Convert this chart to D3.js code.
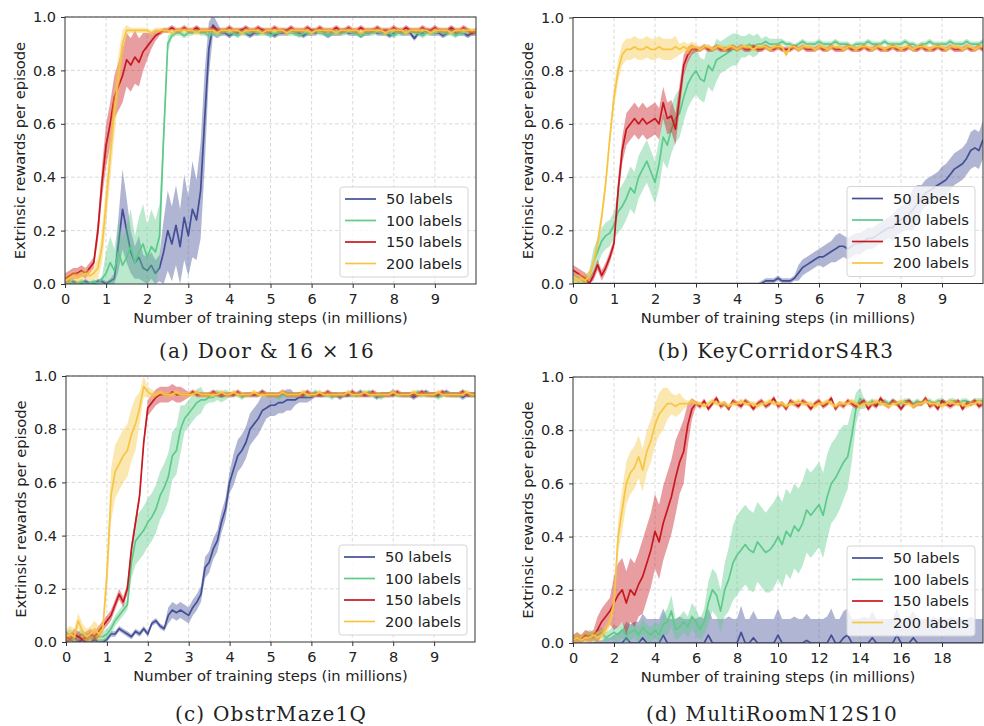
<!DOCTYPE html>
<html>
<head>
<meta charset="utf-8">
<script src="https://cdn.jsdelivr.net/npm/d3@7"></script>
<style>
  body { margin: 0; background: #fff; }
  svg text { font-family: "DejaVu Sans", sans-serif; fill: #222; }
  .caption { font-family: "DejaVu Serif", serif; }
</style>
</head>
<body>
<svg id="chart" width="984" height="726"></svg>
<script>
// values are rewards in hundredths, one per step (0.1M steps for a-c, 0.2M for d)
const seriesLabels = ['50 labels', '100 labels', '150 labels', '200 labels'];
const captions = ['(a) Door & 16 \u00d7 16', '(b) KeyCorridorS4R3', '(c) ObstrMaze1Q', '(d) MultiRoomN12S10'];
const yTicks = [0, 0.2, 0.4, 0.6, 0.8, 1.0];
const xTicksShort = [0, 1, 2, 3, 4, 5, 6, 7, 8, 9];
const xTicksLong = [0, 2, 4, 6, 8, 10, 12, 14, 16, 18];
const stepShort = 0.1, stepLong = 0.2;

// (a) Door 16x16
const doorBlueMean = [
  0,0,1,0,0,1,0,0,1,1, 0,1,2,15,28,20,12,8,10,6, 5,7,4,6,12,20,15,22,14,25,
  18,28,24,35,62,88,97,95,94,94, 93,94,94,95,94,93,94,94,95,94, 94,93,94,94,94,95,94,94,93,94,
  94,94,95,94,93,94,94,94,95,94, 94,94,93,94,94,95,94,94,94,93, 94,95,94,94,94,92,94,94,95,94,
  94,94,93,94,95,94,94,94,93,94,94];
const doorBlueSpread = [
  1,1,1,1,1,1,1,1,1,1, 1,1,2,10,15,12,8,6,8,5, 5,5,5,5,12,15,14,15,14,16,
  15,18,15,18,18,10,4,3,1,1, 1,1,1,1,1,1,1,1,1,1, 1,1,1,1,1,1,1,1,1,1,
  1,1,1,1,1,1,1,1,1,1, 1,1,1,1,1,1,1,1,1,1, 1,1,1,1,1,1,1,1,1,1,
  1,1,1,1,1,1,1,1,1,1,1];
const doorGreenMean = [
  0,1,0,0,1,0,0,1,0,2, 4,8,5,12,7,10,14,8,12,15, 10,14,12,18,55,90,93,94,94,93,
  94,94,95,94,94,93,94,94,94,95, 94,94,93,94,94,94,95,94,94,94, 93,94,94,95,94,94,94,93,94,94,
  94,95,94,94,93,94,94,94,94,95, 94,94,93,94,94,94,95,94,94,94, 93,94,94,94,95,94,94,93,94,94,
  94,95,94,94,94,93,94,94,95,94,94];
const doorGreenSpread = [
  1,1,1,1,1,1,1,1,1,1, 8,10,8,12,10,12,14,10,13,15, 12,14,12,12,6,3,1,1,1,1,
  1,1,1,1,1,1,1,1,1,1, 1,1,1,1,1,1,1,1,1,1, 1,1,1,1,1,1,1,1,1,1,
  1,1,1,1,1,1,1,1,1,1, 1,1,1,1,1,1,1,1,1,1, 1,1,1,1,1,1,1,1,1,1,
  1,1,1,1,1,1,1,1,1,1,1];
const doorRedMean = [
  2,3,4,4,5,4,6,8,20,38, 52,60,70,74,78,84,82,85,83,87, 89,91,93,94,95,95,96,95,95,96,
  95,95,96,95,95,95,96,95,95,95, 96,95,95,95,96,95,95,96,95,95, 95,96,95,95,95,96,95,95,95,96,
  95,95,96,95,95,95,96,95,95,96, 95,95,96,95,95,95,96,95,95,95, 96,95,95,96,95,95,95,96,95,95,
  96,95,95,95,96,95,95,96,95,94,95];
const doorRedSpread = [
  2,2,2,2,2,2,2,2,4,6, 8,8,8,9,10,10,10,10,9,7, 5,3,2,1,1,1,1,1,1,1,
  1,1,1,1,1,1,1,1,1,1, 1,1,1,1,1,1,1,1,1,1, 1,1,1,1,1,1,1,1,1,1,
  1,1,1,1,1,1,1,1,1,1, 1,1,1,1,1,1,1,1,1,1, 1,1,1,1,1,1,1,1,1,1,
  1,1,1,1,1,1,1,1,1,1,1];
const doorYellowMean = [
  1,2,3,2,3,4,3,4,6,14, 30,48,64,78,90,95,95,95,95,95, 95,94,95,95,95,95,94,95,95,95,
  95,95,94,95,95,95,95,94,95,95, 95,95,95,94,95,95,95,95,94,95, 95,95,95,95,94,95,95,95,95,95,
  94,95,95,95,95,95,94,95,95,95, 95,95,94,95,95,95,95,95,94,95, 95,95,95,94,95,95,95,95,95,94,
  95,95,95,95,94,95,95,95,95,95,95];
const doorYellowSpread = [
  2,2,2,2,2,2,2,2,4,6, 8,9,9,8,5,2,1,1,1,1, 1,1,1,1,1,1,1,1,1,1,
  1,1,1,1,1,1,1,1,1,1, 1,1,1,1,1,1,1,1,1,1, 1,1,1,1,1,1,1,1,1,1,
  1,1,1,1,1,1,1,1,1,1, 1,1,1,1,1,1,1,1,1,1, 1,1,1,1,1,1,1,1,1,1,
  1,1,1,1,1,1,1,1,1,1,1];

// (b) KeyCorridorS4R3
const kcBlueMean = [
  0,0,0,0,0,0,0,0,0,0, 0,0,0,0,0,0,0,0,0,0, 0,0,0,0,0,0,0,0,0,0,
  0,0,0,0,0,0,0,0,0,0, 0,0,0,0,0,0,0,1,1,1, 2,1,1,1,2,4,6,7,8,9,
  10,10,11,12,13,14,14,13,14,15, 15,16,17,17,18,19,20,21,21,23, 24,25,26,28,30,32,34,35,36,37,
  38,39,41,43,44,45,47,50,51,50,54];
const kcBlueSpread = [
  0,0,0,0,0,0,0,0,0,0, 0,0,0,0,0,0,0,0,0,0, 0,0,0,0,0,0,0,0,0,0,
  0,0,0,0,0,0,0,0,0,0, 0,0,0,0,0,0,1,1,1,1, 1,1,1,1,1,3,3,3,3,3,
  3,4,4,4,5,5,4,4,4,4, 4,4,4,4,4,4,4,4,5,5, 5,5,6,8,7,5,5,5,5,5,
  6,6,6,6,6,6,6,7,7,7,7];
const kcGreenMean = [
  2,1,0,1,3,8,12,16,18,19, 22,27,29,32,36,34,40,43,46,42, 38,45,55,52,58,62,64,70,75,78,
  80,77,76,82,80,84,85,86,87,88, 88,89,89,90,89,90,90,91,90,90, 90,91,90,90,89,90,91,90,90,90,
  91,90,90,90,91,90,90,90,89,90, 90,90,91,90,90,90,91,90,90,90, 90,91,90,90,89,90,90,91,90,90,
  90,90,91,90,90,90,91,90,90,90,91];
const kcGreenSpread = [
  2,2,2,2,2,5,5,5,5,5, 5,8,8,8,8,8,8,8,8,8, 8,9,9,9,9,9,9,9,9,9,
  9,8,8,8,8,8,6,6,6,6, 6,4,4,4,4,4,2,2,2,2, 2,1,1,1,1,1,1,1,1,1,
  1,1,1,1,1,1,1,1,1,1, 1,1,1,1,1,1,1,1,1,1, 1,1,1,1,1,1,1,1,1,1,
  1,1,1,1,1,1,1,1,1,1,1];
const kcRedMean = [
  5,4,3,2,0,3,7,3,6,10, 15,35,50,58,60,62,60,62,60,61, 62,60,68,62,63,58,70,82,86,88,
  88,88,89,88,88,89,88,88,88,89, 88,89,88,88,89,88,88,89,88,88, 89,88,88,88,89,88,89,88,88,88,
  89,88,88,89,88,88,88,89,88,88, 88,89,88,88,89,88,88,88,89,88, 88,88,89,88,88,89,88,88,88,89,
  88,88,89,88,88,88,89,88,88,89,88];
const kcRedSpread = [
  2,2,2,2,2,2,2,2,2,2, 2,4,5,6,6,6,6,6,6,6, 6,6,6,6,6,6,5,4,3,2,
  1,1,1,1,1,1,1,1,1,1, 1,1,1,1,1,1,1,1,1,1, 1,1,1,1,1,1,1,1,1,1,
  1,1,1,1,1,1,1,1,1,1, 1,1,1,1,1,1,1,1,1,1, 1,1,1,1,1,1,1,1,1,1,
  1,1,1,1,1,1,1,1,1,1,1];
const kcYellowMean = [
  2,1,2,1,3,8,15,25,38,55, 70,80,86,88,88,89,88,88,89,88, 88,89,88,88,88,89,88,89,88,89,
  89,88,89,89,88,89,89,88,89,89, 88,89,89,89,88,89,89,89,88,89, 89,89,86,89,89,88,89,89,89,88,
  89,89,88,89,89,89,88,89,89,88, 89,89,89,88,89,89,88,89,89,89, 88,89,89,88,89,89,89,88,89,89,
  89,88,89,89,89,88,89,89,88,89,89];
const kcYellowSpread = [
  2,2,2,2,2,2,3,3,3,3, 4,4,4,4,4,4,4,4,4,4, 4,4,4,4,4,4,2,2,2,2,
  1,1,1,1,1,1,1,1,1,1, 1,1,1,1,1,1,1,1,1,1, 1,1,1,1,1,1,1,1,1,1,
  1,1,1,1,1,1,1,1,1,1, 1,1,1,1,1,1,1,1,1,1, 1,1,1,1,1,1,1,1,1,1,
  1,1,1,1,1,1,1,1,1,1,1];

// (c) ObstrMaze1Q
const omBlueMean = [
  0,1,0,0,1,0,0,1,0,0, 1,3,3,5,4,3,2,4,3,5, 3,7,8,6,5,10,12,11,12,11,
  10,13,15,18,28,30,35,38,45,50, 60,65,70,72,75,80,82,84,87,88, 89,89,90,90,91,91,91,92,92,92,
  92,93,93,93,93,93,93,92,93,93, 93,93,94,93,93,93,92,93,93,93, 94,93,93,93,93,92,93,93,94,93,
  93,93,93,94,93,93,93,92,93,93,93];
const omBlueSpread = [
  1,1,1,1,1,1,1,1,1,1, 1,1,1,1,1,1,1,1,1,1, 1,1,1,1,1,3,3,3,3,3,
  3,3,3,3,4,4,4,4,4,4, 4,6,6,6,6,6,6,6,6,4, 4,4,4,4,4,4,2,2,2,2,
  1,1,1,1,1,1,1,1,1,1, 1,1,1,1,1,1,1,1,1,1, 1,1,1,1,1,1,1,1,1,1,
  1,1,1,1,1,1,1,1,1,1,1];
const omGreenMean = [
  2,3,1,2,3,1,2,1,2,2, 3,5,8,10,12,14,30,38,40,42, 45,47,50,55,58,62,70,72,80,84,
  86,88,90,91,91,92,92,93,92,93, 93,93,93,92,93,93,93,93,94,93, 93,93,92,93,93,93,93,93,93,93,
  93,94,93,93,93,92,93,93,93,93, 93,93,93,93,94,93,93,92,93,93, 93,93,93,93,93,93,94,93,93,93,
  93,92,93,93,93,93,93,94,93,93,93];
const omGreenSpread = [
  2,2,2,2,2,2,2,2,2,2, 2,2,2,2,2,2,6,9,9,9, 9,9,9,9,9,9,9,9,9,5,
  5,5,5,5,2,2,2,2,2,2, 1,1,1,1,1,1,1,1,1,1, 1,1,1,1,1,1,1,1,1,1,
  1,1,1,1,1,1,1,1,1,1, 1,1,1,1,1,1,1,1,1,1, 1,1,1,1,1,1,1,1,1,1,
  1,1,1,1,1,1,1,1,1,1,1];
const omRedMean = [
  2,1,3,2,1,2,3,2,4,6, 8,10,14,18,15,20,35,45,55,75, 88,90,92,93,93,93,94,93,93,93,
  93,94,93,93,93,93,94,93,93,93, 93,93,94,93,93,93,93,93,94,93, 93,93,93,94,93,93,93,93,93,94,
  93,93,93,93,94,93,93,93,93,93, 94,93,93,93,93,94,93,93,93,93, 93,94,93,93,93,93,93,94,93,93,
  93,93,94,93,93,93,93,94,93,93,93];
const omRedSpread = [
  2,2,2,2,2,2,2,2,2,2, 2,2,2,2,2,2,2,2,2,2, 3,3,3,3,3,3,3,3,3,2,
  1,1,1,1,1,1,1,1,1,1, 1,1,1,1,1,1,1,1,1,1, 1,1,1,1,1,1,1,1,1,1,
  1,1,1,1,1,1,1,1,1,1, 1,1,1,1,1,1,1,1,1,1, 1,1,1,1,1,1,1,1,1,1,
  1,1,1,1,1,1,1,1,1,1,1];
const omYellowMean = [
  2,3,2,8,4,2,3,5,3,5, 25,55,64,67,70,72,78,82,88,96, 94,93,93,94,93,93,93,94,93,93,
  93,93,94,93,93,93,93,93,94,93, 93,94,93,93,93,93,94,93,93,93, 93,93,93,94,93,93,93,93,94,93,
  93,93,94,93,93,93,93,93,93,94, 93,93,93,94,93,93,93,93,93,93, 94,93,93,93,93,94,93,93,93,93,
  93,94,93,93,93,93,93,93,94,93,93];
const omYellowSpread = [
  3,3,3,3,3,3,3,3,3,3, 6,10,10,10,10,10,10,10,6,4, 2,2,1,1,1,1,1,1,1,1,
  1,1,1,1,1,1,1,1,1,1, 1,1,1,1,1,1,1,1,1,1, 1,1,1,1,1,1,1,1,1,1,
  1,1,1,1,1,1,1,1,1,1, 1,1,1,1,1,1,1,1,1,1, 1,1,1,1,1,1,1,1,1,1,
  1,1,1,1,1,1,1,1,1,1,1];

// (d) MultiRoomN12S10
const mrBlueMean = [
  0,0,0,0,0,0,0,0,0,0, 0,0,0,2,0,0,0,2,0,0, 0,0,3,0,0,0,0,0,0,0,
  0,0,0,3,0,0,0,0,0,0, 0,4,0,0,2,0,0,0,0,0, 3,0,0,0,0,0,0,1,0,0,
  0,0,0,3,0,0,2,3,0,0, 0,0,0,2,0,0,0,0,0,3, 0,0,0,2,0,0,0,0,0,0,
  0,0,0,0,0,0,0,0,0,0,0];
const mrBlueSpread = [
  0,0,0,0,0,0,1,1,2,2, 3,4,5,6,7,8,8,9,9,9, 9,9,10,9,9,9,10,9,9,9,
  9,10,9,10,9,9,9,9,10,9, 9,10,9,9,10,9,9,9,9,9, 10,9,9,9,10,9,9,10,9,9,
  9,9,10,10,9,9,10,10,9,9, 9,10,9,10,9,9,9,9,9,10, 9,9,10,10,9,9,9,9,10,9,
  9,9,10,9,9,9,9,10,9,9,9];
const mrGreenMean = [
  1,2,1,2,3,2,3,4,2,3, 4,3,5,3,4,5,3,6,4,3, 5,3,7,8,12,5,6,8,6,10,
  8,5,8,15,20,18,12,20,24,30, 33,35,37,35,34,38,36,34,35,37, 40,37,42,40,44,42,45,50,48,50,
  52,48,55,60,62,65,68,70,78,88, 92,90,90,91,90,90,91,90,91,90, 90,91,91,90,91,90,91,91,90,91,
  91,90,91,91,90,91,91,90,91,91,91];
const mrGreenSpread = [
  2,2,2,2,2,2,2,2,2,2, 3,3,3,3,3,3,3,3,3,3, 3,4,4,5,6,4,4,4,4,5,
  5,4,5,8,8,8,8,10,12,14, 15,15,15,15,15,15,15,15,16,16, 16,16,16,16,16,16,16,16,16,16,
  16,16,16,15,15,15,14,12,10,6, 4,2,1,1,1,1,1,1,1,1, 1,1,1,1,1,1,1,1,1,1,
  1,1,1,1,1,1,1,1,1,1,1];
const mrRedMean = [
  1,2,1,3,2,3,5,8,10,12, 15,18,20,15,20,18,22,25,30,35, 42,38,45,50,55,62,68,72,82,88,
  90,89,91,88,90,92,89,90,88,91, 90,89,91,90,88,90,91,89,90,92, 89,90,88,91,90,89,91,90,88,90,
  91,89,90,92,88,90,89,91,90,89, 90,91,88,90,89,92,90,89,91,90, 88,90,91,89,90,90,92,89,90,88,
  91,90,89,90,91,88,90,90,91,89,90];
const mrRedSpread = [
  2,2,2,2,2,2,5,5,5,5, 10,12,12,12,12,12,12,14,14,14, 14,14,14,14,14,14,12,12,8,4,
  1,1,1,1,1,1,1,1,1,1, 1,1,1,1,1,1,1,1,1,1, 1,1,1,1,1,1,1,1,1,1,
  1,1,1,1,1,1,1,1,1,1, 1,1,1,1,1,1,1,1,1,1, 1,1,1,1,1,1,1,1,1,1,
  1,1,1,1,1,1,1,1,1,1,1];
const mrYellowMean = [
  1,2,1,2,2,3,2,3,5,8, 15,40,50,60,64,66,70,65,72,76, 82,86,88,90,90,89,90,90,90,91,
  90,90,89,90,91,90,90,90,89,90, 90,91,90,90,90,89,90,90,91,90, 90,90,89,90,90,91,90,90,90,89,
  90,90,91,90,89,90,90,90,91,90, 89,90,90,90,91,90,90,89,90,90, 91,90,90,89,90,90,91,90,90,90,
  89,90,91,90,90,90,89,90,90,91,90];
const mrYellowSpread = [
  2,2,2,2,2,2,2,2,2,2, 4,6,8,8,8,8,8,8,8,8, 8,8,8,6,4,4,4,2,1,1,
  1,1,1,1,1,1,1,1,1,1, 1,1,1,1,1,1,1,1,1,1, 1,1,1,1,1,1,1,1,1,1,
  1,1,1,1,1,1,1,1,1,1, 1,1,1,1,1,1,1,1,1,1, 1,1,1,1,1,1,1,1,1,1,
  1,1,1,1,1,1,1,1,1,1,1];

const seriesColors = ['#434f96', '#5cca8b', '#c8181f', '#f6c543'];

const panels = [
  {caption: captions[0], step: stepShort, xMax: 10, xTicks: xTicksShort,
   series: [[doorBlueMean, doorBlueSpread], [doorGreenMean, doorGreenSpread], [doorRedMean, doorRedSpread], [doorYellowMean, doorYellowSpread]],
   left: 65, top: 17, width: 411, height: 267, capX: 267, capY: 358},
  {caption: captions[1], step: stepShort, xMax: 10, xTicks: xTicksShort,
   series: [[kcBlueMean, kcBlueSpread], [kcGreenMean, kcGreenSpread], [kcRedMean, kcRedSpread], [kcYellowMean, kcYellowSpread]],
   left: 573, top: 17.5, width: 410, height: 266, capX: 776, capY: 358},
  {caption: captions[2], step: stepShort, xMax: 10, xTicks: xTicksShort,
   series: [[omBlueMean, omBlueSpread], [omGreenMean, omGreenSpread], [omRedMean, omRedSpread], [omYellowMean, omYellowSpread]],
   left: 66, top: 376, width: 409, height: 266, capX: 271, capY: 721},
  {caption: captions[3], step: stepLong, xMax: 20, xTicks: xTicksLong,
   series: [[mrBlueMean, mrBlueSpread], [mrGreenMean, mrGreenSpread], [mrRedMean, mrRedSpread], [mrYellowMean, mrYellowSpread]],
   left: 573, top: 377, width: 410, height: 266, capX: 772, capY: 721}
];

const svg = d3.select('#chart');

panels.forEach((p, pi) => {
  let x = d3.scaleLinear().domain([0, p.xMax]).range([0, p.width]);
  let y = d3.scaleLinear().domain([0, 1]).range([p.height, 0]);

  let g = svg.append('g')
    .attr('transform', `translate(${p.left}, ${p.top})`);

  g.append('clipPath')
    .attr('id', 'clip' + pi)
    .append('rect')
    .attr('width', p.width)
    .attr('height', p.height);

  // grid
  g.append('g')
    .selectAll('line')
    .data(yTicks.slice(1))
    .enter()
    .append('line')
    .attr('x1', 0).attr('x2', p.width)
    .attr('y1', d => y(d)).attr('y2', d => y(d))
    .attr('stroke', '#cfcfcf').attr('stroke-width', 0.8)
    .attr('stroke-dasharray', '3.5,2.5');

  g.append('g')
    .selectAll('line')
    .data(p.xTicks.slice(1))
    .enter()
    .append('line')
    .attr('x1', d => x(d)).attr('x2', d => x(d))
    .attr('y1', 0).attr('y2', p.height)
    .attr('stroke', '#cfcfcf').attr('stroke-width', 0.8)
    .attr('stroke-dasharray', '3.5,2.5');

  let plot = g.append('g').attr('clip-path', `url(#clip${pi})`);

  p.series.forEach(([mean, spread], si) => {
    let pts = mean.map((m, i) => ({
      t: i * p.step,
      v: m / 100,
      lo: Math.max(0, (m - spread[i]) / 100),
      hi: (m + spread[i]) / 100
    }));

    let area = d3.area()
      .x(d => x(d.t))
      .y0(d => y(d.lo))
      .y1(d => y(d.hi));

    let line = d3.line()
      .x(d => x(d.t))
      .y(d => y(d.v));

    plot.append('path')
      .attr('d', area(pts))
      .attr('fill', seriesColors[si])
      .attr('fill-opacity', 0.42);

    plot.append('path')
      .attr('d', line(pts))
      .attr('fill', 'none')
      .attr('stroke', seriesColors[si])
      .attr('stroke-width', 1.7)
      .attr('stroke-linejoin', 'round');
  });

  // axes
  let xAxis = g.append('g')
    .attr('transform', `translate(0, ${p.height})`)
    .call(d3.axisBottom(x).tickValues(p.xTicks).tickFormat(d3.format('d')).tickSize(4).tickPadding(6).tickSizeOuter(0));

  let yAxis = g.append('g')
    .call(d3.axisLeft(y).tickValues(yTicks).tickFormat(d3.format('.1f')).tickSize(4).tickPadding(5).tickSizeOuter(0));

  [xAxis, yAxis].forEach(a => {
    a.select('.domain').remove();
    a.selectAll('.tick line').attr('stroke', '#333');
    a.selectAll('text').style('font-size', '14.5px').attr('fill', '#222');
  });

  g.append('rect')
    .attr('width', p.width)
    .attr('height', p.height)
    .attr('fill', 'none')
    .attr('stroke', '#333')
    .attr('stroke-width', 1);

  g.append('text')
    .attr('text-anchor', 'middle')
    .attr('x', p.width / 2)
    .attr('y', p.height + 39)
    .style('font-size', '14.7px')
    .text('Number of training steps (in millions)');

  g.append('text')
    .attr('text-anchor', 'middle')
    .attr('transform', `translate(-40, ${p.height / 2}) rotate(-90)`)
    .style('font-size', '14.7px')
    .text('Extrinsic rewards per episode');

  // legend
  const legW = 128, legH = 90;
  let legend = g.append('g')
    .attr('transform', `translate(${p.width - 8 - legW}, ${p.height - 7 - legH})`);

  legend.append('rect')
    .attr('width', legW)
    .attr('height', legH)
    .attr('rx', 3).attr('ry', 3)
    .attr('fill', '#fff')
    .attr('fill-opacity', 0.8)
    .attr('stroke', '#d4d4d4');

  let item = legend.selectAll('g.item')
    .data(seriesLabels)
    .enter()
    .append('g')
    .attr('class', 'item')
    .attr('transform', (d, i) => `translate(0, ${12 + i * 21.5})`);

  item.append('line')
    .attr('x1', 5).attr('x2', 36)
    .attr('stroke', (d, i) => seriesColors[i])
    .attr('stroke-width', 1.7);

  item.append('text')
    .attr('x', 46)
    .attr('y', 5)
    .style('font-size', '14.7px')
    .text(d => d);

  svg.append('text')
    .attr('class', 'caption')
    .attr('text-anchor', 'middle')
    .attr('x', p.capX)
    .attr('y', p.capY)
    .style('font-size', '20px')
    .style('letter-spacing', '1.2px')
    .text(p.caption);
});
</script>
</body>
</html>
